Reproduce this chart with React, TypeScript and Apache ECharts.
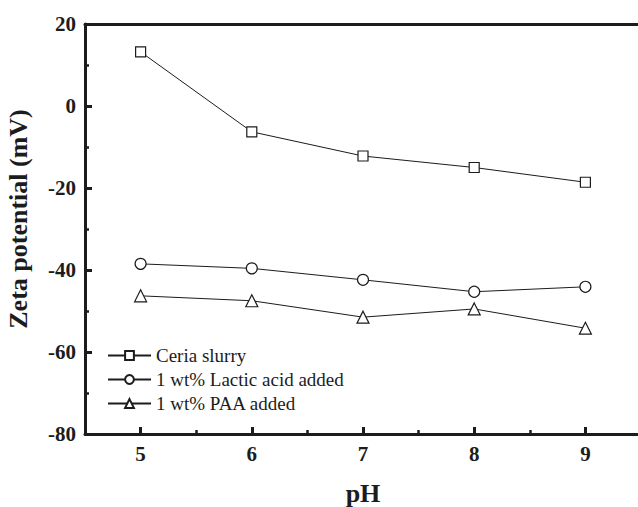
import React, { useEffect, useRef } from "react";
import * as echarts from "echarts";

const phValues = [5, 6, 7, 8, 9];
const ceriaSlurry = [13.2, -6.3, -12.2, -15.0, -18.6];
const lacticAcid = [-38.5, -39.6, -42.4, -45.3, -44.1];
const paaAdded = [-46.3, -47.5, -51.5, -49.5, -54.2];
const seriesNames = ["Ceria slurry", "1 wt% Lactic acid added", "1 wt% PAA added"];
const xMajorTicks = [5, 6, 7, 8, 9];
const xMinorTicks = [5.5, 6.5, 7.5, 8.5];

const FONT = "'Liberation Serif', 'Times New Roman', serif";
const INK = "#1c1c1c";

export default function App() {
  const ref = useRef<HTMLDivElement>(null);
  useEffect(() => {
    if (!ref.current) return;
    const chart = echarts.init(ref.current, undefined, { renderer: "svg" });
    const mk = (name: string, vals: number[], symbol: string, size: number) => ({
      name,
      type: "line",
      data: phValues.map((x, i) => [x, vals[i]]),
      symbol,
      symbolSize: size,
      showAllSymbol: true,
      lineStyle: { color: INK, width: 1 },
      itemStyle: { color: "#ffffff", borderColor: INK, borderWidth: 1.2 },
      xAxisIndex: 0,
      yAxisIndex: 0,
    });
    chart.setOption({
      animation: false,
      backgroundColor: "#ffffff",
      grid: {
        left: 85,
        top: 24,
        width: 556,
        height: 410,
        containLabel: false,
        outerBoundsMode: "none",
      },
      legend: {
        orient: "vertical",
        left: 102,
        top: 341,
        itemWidth: 43,
        itemHeight: 11,
        itemGap: 5,
        data: seriesNames,
        textStyle: { fontFamily: FONT, fontSize: 19, color: INK },
      },
      xAxis: [
        {
          type: "value",
          min: 4.5,
          max: 9.5,
          position: "bottom",
          name: "pH",
          nameLocation: "middle",
          nameGap: 46,
          nameTextStyle: { fontFamily: FONT, fontSize: 26, fontWeight: "bold", color: INK },
          axisLine: { show: true, onZero: false, lineStyle: { color: INK, width: 3 } },
          axisTick: {
            show: true,
            inside: true,
            length: 7,
            customValues: xMajorTicks,
            lineStyle: { color: INK, width: 3 },
          },
          axisLabel: {
            customValues: xMajorTicks,
            margin: 9,
            fontFamily: FONT,
            fontSize: 21,
            fontWeight: "bold",
            color: INK,
          },
          splitLine: { show: false },
        },
        {
          type: "value",
          min: 4.5,
          max: 9.5,
          position: "bottom",
          offset: 0,
          axisLine: { show: false, onZero: false },
          axisTick: {
            show: true,
            inside: true,
            length: 4,
            customValues: xMinorTicks,
            lineStyle: { color: INK, width: 2.5 },
          },
          axisLabel: { show: false },
          splitLine: { show: false },
        },
        {
          type: "value",
          min: 4.5,
          max: 9.5,
          position: "top",
          axisLine: { show: true, onZero: false, lineStyle: { color: INK, width: 3 } },
          axisTick: { show: false },
          axisLabel: { show: false },
          splitLine: { show: false },
        },
      ],
      yAxis: {
        type: "value",
        min: -80,
        max: 20,
        interval: 20,
        name: "Zeta potential (mV)",
        nameLocation: "middle",
        nameGap: 54,
        nameTextStyle: {
          fontFamily: FONT,
          fontSize: 26,
          fontWeight: "bold",
          color: INK,
          padding: [0, 0, 0, 20],
        },
        axisLine: { show: true, onZero: false, lineStyle: { color: INK, width: 3 } },
        axisTick: { show: true, inside: true, length: 7, lineStyle: { color: INK, width: 3 } },
        minorTick: { show: true, splitNumber: 2, length: 4, lineStyle: { color: INK, width: 2.5 } },
        axisLabel: { margin: 9, fontFamily: FONT, fontSize: 21, fontWeight: "bold", color: INK },
        splitLine: { show: false },
      },
      series: [
        mk(seriesNames[0], ceriaSlurry, "rect", 10),
        mk(seriesNames[1], lacticAcid, "circle", 11),
        mk(seriesNames[2], paaAdded, "triangle", 12),
      ],
    });
    return () => chart.dispose();
  }, []);
  return (
    <div
      ref={ref}
      style={{ position: "fixed", left: 0, top: 0, width: 638, height: 507, background: "#fff" }}
    />
  );
}
